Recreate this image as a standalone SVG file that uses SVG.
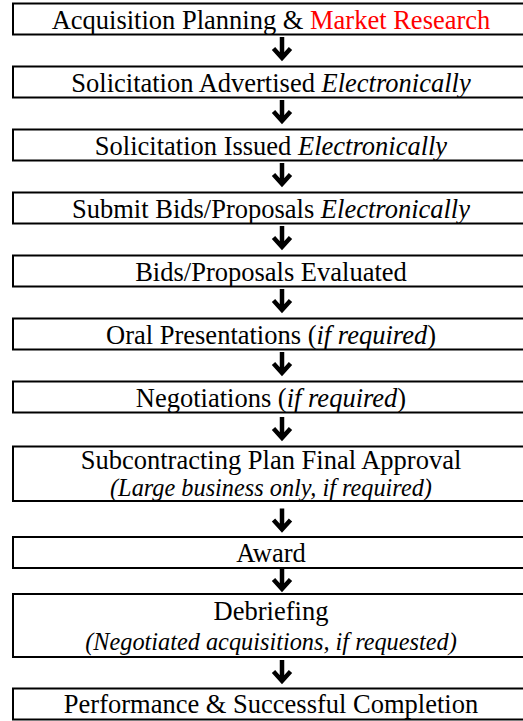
<svg xmlns="http://www.w3.org/2000/svg" width="523" height="721" viewBox="0 0 523 721">
<style>
.box{fill:#fff;stroke:#000;stroke-width:2}
.t{font-family:"Liberation Serif","Times New Roman",serif;font-size:26.5px;fill:#000;text-anchor:middle}
.s{font-size:24.3px}
.i{font-style:italic}
.red{fill:#ff0000}
.arr{fill:none;stroke:#000;stroke-width:4.5;stroke-linejoin:miter;stroke-linecap:butt}
</style>
<defs>
<g id="arrow"><path class="arr" d="M0,-22 V-1 M-8.5,-10.5 L0,-1 L8.5,-10.5"/></g>
</defs>
<rect width="523" height="721" fill="#fff"/>
<g id="connectors">
<use href="#arrow" x="282" y="59"/>
<use href="#arrow" x="282" y="122"/>
<use href="#arrow" x="282" y="185"/>
<use href="#arrow" x="282" y="248"/>
<use href="#arrow" x="282" y="311"/>
<use href="#arrow" x="282" y="374"/>
<use href="#arrow" x="282" y="439"/>
<use href="#arrow" x="282" y="530.5"/>
<use href="#arrow" x="282" y="590"/>
<use href="#arrow" x="282" y="682"/>
</g>
<g id="n1"><rect class="box" x="13" y="3.5" width="515" height="31"/><text class="t" x="271" y="28.5">Acquisition Planning &amp; <tspan class="red">Market Research</tspan></text></g>
<g id="n2"><rect class="box" x="13" y="66.5" width="515" height="31"/><text class="t" x="271" y="91.5">Solicitation Advertised <tspan class="i">Electronically</tspan></text></g>
<g id="n3"><rect class="box" x="13" y="129.5" width="515" height="31"/><text class="t" x="271" y="154.5">Solicitation Issued <tspan class="i">Electronically</tspan></text></g>
<g id="n4"><rect class="box" x="13" y="192.5" width="515" height="31"/><text class="t" x="271" y="217.5">Submit Bids/Proposals <tspan class="i">Electronically</tspan></text></g>
<g id="n5"><rect class="box" x="13" y="255.5" width="515" height="31"/><text class="t" x="271" y="280.5">Bids/Proposals Evaluated</text></g>
<g id="n6"><rect class="box" x="13" y="318.5" width="515" height="31"/><text class="t" x="271" y="343.5">Oral Presentations (<tspan class="i">if required</tspan>)</text></g>
<g id="n7"><rect class="box" x="13" y="381.5" width="515" height="31"/><text class="t" x="271" y="406.5">Negotiations (<tspan class="i">if required</tspan>)</text></g>
<g id="n8"><rect class="box" x="13" y="446.5" width="515" height="54.5"/><text class="t" x="271" y="468.5">Subcontracting Plan Final Approval</text><text class="t s i" x="271" y="495.5">(Large business only, if required)</text></g>
<g id="n9"><rect class="box" x="13" y="537" width="515" height="31"/><text class="t" x="271" y="561.5">Award</text></g>
<g id="n10"><rect class="box" x="13" y="594" width="515" height="63"/><text class="t" x="271" y="620">Debriefing</text><text class="t s i" x="271" y="650">(Negotiated acquisitions, if requested)</text></g>
<g id="n11"><rect class="box" x="13" y="688.5" width="515" height="31"/><text class="t" x="271" y="712.5">Performance &amp; Successful Completion</text></g>
</svg>
